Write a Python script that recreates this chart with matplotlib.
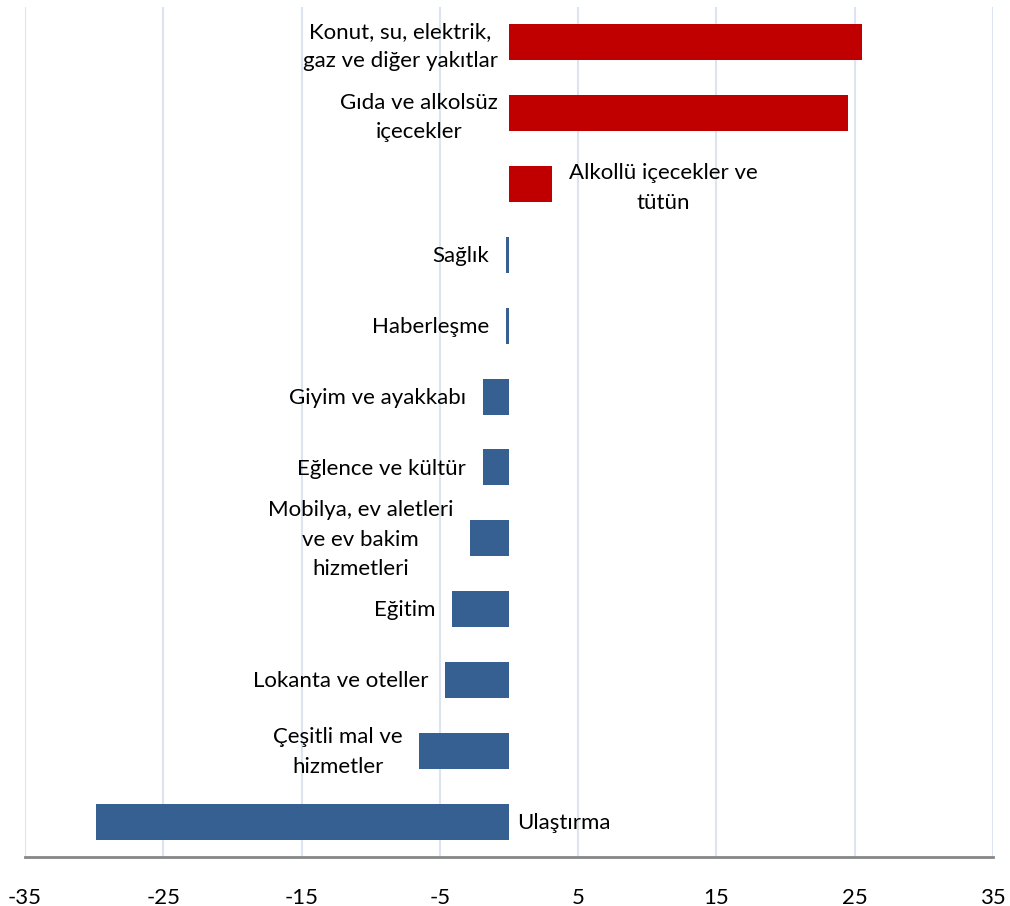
import numpy as np
import matplotlib.pyplot as plt

# Data (percentage points)
categories = [
    "Konut, su, elektrik,\ngaz ve diğer yakıtlar",
    "Gıda ve alkolsüz\niçecekler",
    "Alkollü içecekler ve\ntütün",
    "Sağlık",
    "Haberleşme",
    "Giyim ve ayakkabı",
    "Eğlence ve kültür",
    "Mobilya, ev aletleri\nve ev bakim\nhizmetleri",
    "Eğitim",
    "Lokanta ve oteller",
    "Çeşitli mal ve\nhizmetler",
    "Ulaştırma",
]
values = [25.5, 24.5, 3.1, -0.25, -0.25, -1.9, -1.9, -2.8, -4.1, -4.6, -6.5, -29.9]
x_ticks = [-35, -25, -15, -5, 5, 15, 25, 35]

RED = "#C00000"
BLUE = "#376092"
GRID = "#DCE4F0"
FS = 16

plt.rcParams["font.family"] = ["Lato", "DejaVu Sans"]

fig = plt.figure(figsize=(10.1, 9.06), dpi=100)
ax = fig.add_axes([25 / 1010, 49 / 906, 968 / 1010, 850 / 906])

y = np.arange(len(categories))
colors = [RED if v > 0 else BLUE for v in values]
ax.barh(y, values, height=0.51, color=colors, zorder=3)

# labels sit beside the bars, Excel-style
txt_kw = dict(textcoords="offset points", va="center", multialignment="center",
              fontsize=FS, linespacing=1.6)
for i, (lab, v) in enumerate(zip(categories, values)):
    if 0 < v < 10:
        ax.annotate(lab, (v, i), xytext=(12, -3), ha="left", **txt_kw)
    elif v > 0:
        ax.annotate(lab, (0, i), xytext=(-8, -3), ha="right", **txt_kw)
    elif v < -20:
        ax.annotate(lab, (0, i), xytext=(6, -1), ha="left", **txt_kw)
    else:
        ax.annotate(lab, (v, i), xytext=(-12, -1), ha="right", **txt_kw)

ax.set_xlim(-35, 35)
ax.set_ylim(len(categories) - 0.5, -0.5)
ax.set_xticks(x_ticks)
ax.set_xticklabels([str(t) for t in x_ticks], fontsize=FS)
ax.set_yticks([])
ax.tick_params(axis="x", length=0, pad=22)
ax.grid(axis="x", color=GRID, linewidth=1.5, zorder=0)

for side in ["top", "right", "left"]:
    ax.spines[side].set_visible(False)
ax.spines["bottom"].set_color("#868686")
ax.spines["bottom"].set_linewidth(2)

fig.savefig("out.png", dpi=100)
